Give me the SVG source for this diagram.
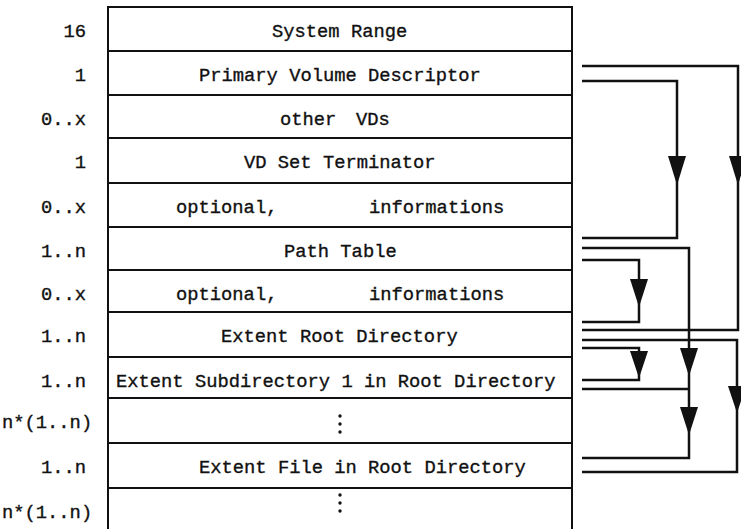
<svg xmlns="http://www.w3.org/2000/svg" width="741" height="529" viewBox="0 0 741 529">
<style>
text{font-family:"Liberation Mono","Courier New",monospace;font-size:18.8px;fill:#111;stroke:#111;stroke-width:0.35}
.lbl{text-anchor:end}
.cell{fill:none;stroke:#111;stroke-width:2}
.conn{fill:none;stroke:#111;stroke-width:2.5}
.ah{fill:#111;stroke:none}
.dot{fill:#111}
</style>
<rect width="741" height="529" fill="#fff"/>
<g id="table-frame">
<line class="cell" x1="108" y1="6" x2="108" y2="529"/>
<line class="cell" x1="572" y1="6" x2="572" y2="529"/>
<line class="cell" x1="107" y1="7" x2="573" y2="7"/>
</g>
<g id="row-system-range">
<line class="cell" x1="108" y1="51" x2="572" y2="51"/>
<text class="lbl" x="86" y="37">16</text>
<text x="272" y="37">System Range</text>
</g>
<g id="row-pvd">
<line class="cell" x1="108" y1="95" x2="572" y2="95"/>
<text class="lbl" x="86" y="81">1</text>
<text x="199" y="81">Primary Volume Descriptor</text>
</g>
<g id="row-other-vds">
<line class="cell" x1="108" y1="138" x2="572" y2="138"/>
<text class="lbl" x="86" y="125">0..x</text>
<text x="280" y="125">other</text>
<text x="356" y="125">VDs</text>
</g>
<g id="row-terminator">
<line class="cell" x1="108" y1="183" x2="572" y2="183"/>
<text class="lbl" x="86" y="168">1</text>
<text x="244" y="168">VD Set Terminator</text>
</g>
<g id="row-optional-1">
<line class="cell" x1="108" y1="227" x2="572" y2="227"/>
<text class="lbl" x="86" y="213">0..x</text>
<text x="176" y="213">optional,</text>
<text x="369" y="213">informations</text>
</g>
<g id="row-path-table">
<line class="cell" x1="108" y1="270" x2="572" y2="270"/>
<text class="lbl" x="86" y="257">1..n</text>
<text x="284" y="257">Path Table</text>
</g>
<g id="row-optional-2">
<line class="cell" x1="108" y1="312" x2="572" y2="312"/>
<text class="lbl" x="86" y="300">0..x</text>
<text x="176" y="300">optional,</text>
<text x="369" y="300">informations</text>
</g>
<g id="row-root-dir">
<line class="cell" x1="108" y1="357" x2="572" y2="357"/>
<text class="lbl" x="86" y="342">1..n</text>
<text x="221" y="342">Extent Root Directory</text>
</g>
<g id="row-subdir">
<line class="cell" x1="108" y1="398" x2="572" y2="398"/>
<text class="lbl" x="86" y="387">1..n</text>
<text x="116" y="387">Extent Subdirectory 1 in Root Directory</text>
</g>
<g id="row-subdir-more">
<line class="cell" x1="108" y1="443" x2="572" y2="443"/>
<text x="2" y="428">n*(1..n)</text>
<circle class="dot" cx="340" cy="416" r="1.7"/>
<circle class="dot" cx="340" cy="424" r="1.7"/>
<circle class="dot" cx="340" cy="432" r="1.7"/>
</g>
<g id="row-file">
<line class="cell" x1="108" y1="488" x2="572" y2="488"/>
<text class="lbl" x="86" y="473">1..n</text>
<text x="199" y="473">Extent File in Root Directory</text>
</g>
<g id="row-file-more">
<text x="2" y="518">n*(1..n)</text>
<circle class="dot" cx="340" cy="495" r="1.7"/>
<circle class="dot" cx="340" cy="503" r="1.7"/>
<circle class="dot" cx="340" cy="511" r="1.7"/>
</g>
<g id="connectors">
<path class="conn" d="M582 66H738V330H582"/>
<path class="conn" d="M582 81H677V238H582"/>
<path class="conn" d="M582 260H639V322H582"/>
<path class="conn" d="M582 248H689V458H582"/>
<path class="conn" d="M582 389H689"/>
<path class="conn" d="M582 340H737V472H582"/>
<path class="conn" d="M582 348H639V380H582"/>
<polygon class="ah" points="729,156 747,156 738,185"/>
<polygon class="ah" points="668,156 686,156 677,185"/>
<polygon class="ah" points="630,279 648,279 639,307"/>
<polygon class="ah" points="680,348 698,348 689,376"/>
<polygon class="ah" points="680,407 698,407 689,435"/>
<polygon class="ah" points="728,386 746,386 737,413"/>
<polygon class="ah" points="630,351 648,351 639,378"/>
</g>
</svg>
